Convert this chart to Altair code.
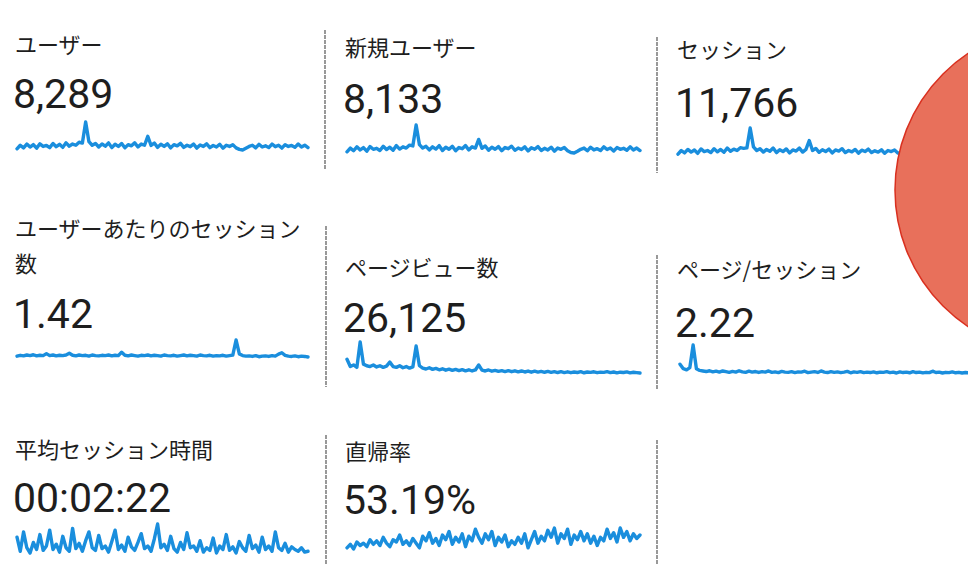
import altair as alt
import pandas as pd

# ---- data ----
titles = ["ユーザー", "新規ユーザー", "セッション",
          "ユーザーあたりのセッション", "ページビュー数", "ページ/セッション",
          "平均セッション時間", "直帰率"]
title_extra = "数"  # second line of the 4th title
numbers = ["8,289", "8,133", "11,766", "1.42", "26,125", "2.22", "00:02:22", "53.19%"]

users = [120,150,128,160,135,155,125,162,140,148, 130,165,138,158,132,170,142,160,150,175,
         168,345,180,150,165,135,160,142,170,130, 158,140,165,128,155,145,170,135,160,150,
         225,148,168,132,158,140,162,128,155,145, 166,132,150,138,160,126,152,140,162,130,
         148,135,158,125,150,140,155,128,115,110, 125,140,150,128,158,135,145,130,160,138,
         150,126,155,140,148,132,160,135,150,130]
new_users = [118,148,126,158,133,152,123,160,138,146, 128,162,136,155,130,168,140,158,148,172,
             165,335,176,148,162,133,158,140,168,128, 155,138,162,126,152,143,168,133,158,148,
             218,146,165,130,155,138,160,126,152,143, 163,130,148,136,158,124,150,138,160,128,
             146,133,155,123,148,138,152,126,112,108, 122,138,148,126,155,133,143,128,158,136,
             148,124,152,138,146,130,158,133,148,128]
sessions = [170,205,182,215,190,210,178,220,195,205, 185,222,192,215,188,228,198,218,205,232,
            225,230,420,240,205,222,190,215,198,228, 185,212,195,220,182,210,200,228,190,215,
            300,205,225,188,212,195,218,182,210,200, 222,185,205,192,215,180,208,195,218,185,
            202,190,212,178,205,195,210,182,168,162, 178,195,205,182,212,190,200,185,215,192,
            205,180,210,195,202,186,215,190,205,185]
sessions_per_user = [1.38,1.41,1.39,1.42,1.40,1.43,1.39,1.41,1.40,1.47, 1.40,1.42,1.39,1.41,1.40,
                     1.42,1.48,1.41,1.39,1.42, 1.40,1.41,1.38,1.42,1.40,1.39,1.41,1.40,1.42,1.39,
                     1.41,1.40,1.52,1.41,1.39,1.42,1.40,1.38,1.41,1.40, 1.42,1.39,1.41,1.40,1.38,
                     1.42,1.40,1.39,1.41,1.38, 1.40,1.42,1.39,1.41,1.40,1.38,1.42,1.40,1.39,1.41,
                     1.38,1.40,1.39,1.41,1.38,1.40,1.42,1.95,1.46,1.40, 1.38,1.39,1.37,1.40,1.36,
                     1.38,1.39,1.37,1.40,1.38, 1.45,1.50,1.41,1.38,1.37,1.39,1.36,1.38,1.37,1.35]
pageviews = [720,540,580,520,1150,600,560,540,580,530, 560,520,550,650,540,520,560,510,540,500,
             530,1050,560,500,480,510,470,495,460,485, 450,475,445,470,440,465,435,460,430,455,
             580,450,430,455,425,445,420,440,415,438, 412,435,410,430,405,428,400,425,402,420,
             398,418,395,415,392,412,390,410,388,405, 392,412,386,405,395,410,388,402,396,415,
             390,405,385,400,392,408,384,398,390,380]
pages_per_session = [2.9,2.5,2.4,2.6,4.6,2.5,2.35,2.3,2.25,2.32, 2.22,2.28,2.2,2.3,2.24,2.18,2.26,
                     2.2,2.32,2.22, 2.18,2.28,2.2,2.25,2.17,2.24,2.2,2.3,2.18,2.22, 2.15,2.26,2.2,
                     2.18,2.24,2.16,2.22,2.2,2.28,2.15, 2.2,2.24,2.17,2.3,2.2,2.16,2.24,2.18,2.22,
                     2.15, 2.2,2.26,2.14,2.22,2.18,2.24,2.15,2.2,2.16,2.22, 2.14,2.2,2.18,2.24,
                     2.15,2.2,2.12,2.22,2.16,2.2, 2.14,2.24,2.16,2.2,2.13,2.18,2.15,2.28,2.16,2.2,
                     2.12,2.18,2.15,2.22,2.14,2.18,2.12,2.16,2.14,2.12]
avg_session_time = [200,120,230,140,110,170,130,215,125,150, 240,130,160,115,205,140,120,250,135,165,
                    120,180,230,140,125,210,135,150,115,175, 240,130,155,120,200,145,125,170,220,135,
                    150,120,190,275,140,160,125,205,135,115, 170,130,225,140,150,120,180,115,140,125,
                    195,110,150,130,215,125,145,110,175,140, 120,210,135,155,115,200,130,150,120,230,
                    140,125,165,115,145,130,120,140,115,120]
bounce_rate = [46,49,45,51,48,50,47,53,49,52, 48,55,50,47,53,51,57,49,52,48,
               54,50,46,56,52,59,50,54,48,57, 53,60,49,55,51,58,47,56,52,62,
               55,50,58,53,60,48,55,51,57,47, 52,49,55,50,58,46,53,60,50,56,
               52,61,55,63,50,58,54,62,49,57, 53,60,52,58,50,56,48,55,52,62,
               54,59,51,63,55,60,52,58,54,57]

series = [users, new_users, sessions, sessions_per_user, pageviews,
          pages_per_session, avg_session_time, bounce_rate]

# ---- layout (page pixel coordinates) ----
OFF = 8
BLUE = "#1A8EDD"
INK = "#1e1e1e"
JP = "Noto Sans CJK JP"
NUM = "Roboto"

title_pos = [(15, 53), (345, 56), (677, 58), (15, 237), (345, 276), (677, 278), (15, 458), (345, 460)]
number_pos = [(13, 108), (343, 113), (675, 117), (13, 328), (343, 332), (675, 337), (13, 512), (343, 514)]
spark_box = [(17, 308, 150, 122), (347, 640, 153, 125), (678, 970, 155, 128),
             (17, 308, 357, 340), (347, 640, 373, 342), (680, 972, 373, 345),
             (17, 308, 553, 524), (347, 640, 549, 528)]
dividers = [(325, 30, 170), (657, 37, 173), (326, 226, 387), (657, 255, 390),
            (326, 435, 573), (657, 440, 573)]

one = pd.DataFrame({"k": [0]})
layers = []

for vals, (x0, x1, yb, yt) in zip(series, spark_box):
    df = pd.DataFrame({"i": list(range(len(vals))), "v": vals})
    layers.append(
        alt.Chart(df).mark_line(color=BLUE, strokeWidth=3.4, strokeJoin="round", strokeCap="round").encode(
            x=alt.X("i:Q", axis=None,
                    scale=alt.Scale(domain=[0, len(vals) - 1], range=[x0 - OFF, x1 - OFF], nice=False, zero=False)),
            y=alt.Y("v:Q", axis=None,
                    scale=alt.Scale(zero=False, nice=False, range=[yb - OFF, yt - OFF])),
        )
    )

def text_layer(s, x, y, size, font):
    return alt.Chart(one).mark_text(
        text=s, align="left", baseline="alphabetic", fontSize=size, font=font, color=INK
    ).encode(x=alt.value(x - OFF), y=alt.value(y - OFF))

for t, (x, y) in zip(titles, title_pos):
    layers.append(text_layer(t, x, y, 22, JP))
layers.append(text_layer(title_extra, 15, 272, 22, JP))
for n, (x, y) in zip(numbers, number_pos):
    layers.append(text_layer(n, x, y, 41, NUM))

for (x, y0, y1) in dividers:
    layers.append(
        alt.Chart(one).mark_rule(color="#555555", strokeWidth=1.2, strokeDash=[4, 1]).encode(
            x=alt.value(x - OFF), y=alt.value(y0 - OFF), y2=alt.value(y1 - OFF)
        )
    )

# red stamp partly visible at the right edge
layers.append(
    alt.Chart(one).mark_circle(fill="#E8705B", stroke="#D9301F", strokeWidth=1.5, opacity=1).encode(
        x=alt.value(1059 - OFF), y=alt.value(190 - OFF), size=alt.value(107584)
    )
)

chart = alt.layer(*layers).resolve_scale(x="independent", y="independent").properties(
    width=960, height=557, padding=0, autosize=alt.AutoSizeParams(type="none"), background="white"
).configure_view(stroke=None)

chart.save("out.html", embed_options={"renderer": "svg", "actions": False})
